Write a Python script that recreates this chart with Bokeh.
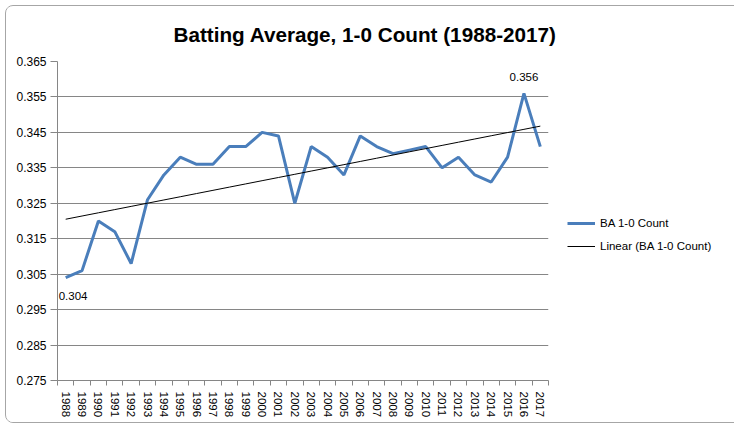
import numpy as np
from bokeh.plotting import figure
from bokeh.models import (Range1d, FixedTicker, Title, Legend, LegendItem, Label)
from bokeh.embed import file_html
from bokeh.resources import INLINE

# ---- data ----
years = [str(y) for y in range(1988, 2018)]
ba_1_0 = [0.304, 0.306, 0.320, 0.317, 0.308, 0.326, 0.333, 0.338, 0.336, 0.336,
          0.341, 0.341, 0.345, 0.344, 0.325, 0.341, 0.338, 0.333, 0.344, 0.341,
          0.339, 0.340, 0.341, 0.335, 0.338, 0.333, 0.331, 0.338, 0.356, 0.341]
y_ticks = [0.275, 0.285, 0.295, 0.305, 0.315, 0.325, 0.335, 0.345, 0.355, 0.365]
labeled_years = ["1988", "2016"]
title_text = "Batting Average, 1-0 Count (1988-2017)"
series_name = "BA 1-0 Count"
trend_name = "Linear (BA 1-0 Count)"

FONT = "Liberation Sans"
BLUE = "#4A7EBB"
GRID = "#868686"

n = len(years)
xs = np.arange(n) + 0.5
slope, intercept = np.polyfit(np.arange(n), np.array(ba_1_0), 1)
trend = slope * np.arange(n) + intercept

p = figure(frame_width=491, frame_height=319, output_backend="svg", toolbar_location=None,
           x_range=Range1d(0, n), y_range=Range1d(y_ticks[0], y_ticks[-1]),
           min_border_left=51, min_border_right=177, min_border_top=55, min_border_bottom=42,
           styles={"border": "1px solid #a6a6a6", "border-radius": "8px",
                   "overflow": "hidden", "margin-left": "5px", "margin-top": "5px"})
p.outline_line_color = None
p.background_fill_color = "white"
p.border_fill_color = "white"

t = Title(text=title_text, align="left", offset=116, standoff=29, vertical_align="middle",
          text_font=FONT, text_font_size="20.7px", text_font_style="bold", text_color="black")
p.add_layout(t, "above")

# x axis
p.xaxis.ticker = FixedTicker(ticks=list(xs), minor_ticks=list(range(n + 1)))
p.xaxis.major_label_overrides = {float(x): yv for x, yv in zip(xs, years)}
p.xaxis.major_label_orientation = "vertical"
p.xaxis.major_tick_line_color = None
p.xaxis.major_tick_out = 0
p.xaxis.major_tick_in = 0
p.xaxis.minor_tick_line_color = GRID
p.xaxis.minor_tick_out = 5
p.xaxis.minor_tick_in = 0
p.xaxis.axis_line_color = GRID
p.xaxis.major_label_standoff = 6
p.xaxis.major_label_text_font = FONT
p.xaxis.major_label_text_font_size = "11.5px"
p.xaxis.major_label_text_color = "black"
p.xgrid.grid_line_color = None

# y axis
p.yaxis.ticker = FixedTicker(ticks=y_ticks)
p.yaxis.major_label_overrides = {v: f"{v:.3f}" for v in y_ticks}
p.yaxis.axis_line_color = GRID
p.yaxis.major_tick_line_color = GRID
p.yaxis.major_tick_out = 7
p.yaxis.major_tick_in = 0
p.yaxis.minor_tick_line_color = None
p.yaxis.major_label_standoff = 4
p.yaxis.major_label_text_font = FONT
p.yaxis.major_label_text_font_size = "12px"
p.yaxis.major_label_text_color = "black"
p.ygrid.grid_line_color = GRID
p.ygrid.grid_line_width = 1

r_ba = p.line(xs, ba_1_0, line_color=BLUE, line_width=3)
r_tr = p.line(xs, trend, line_color="black", line_width=1)

# data labels
for yr in labeled_years:
    i = years.index(yr)
    if i == 0:
        lab = Label(x=xs[i], y=ba_1_0[i], text=f"{ba_1_0[i]:.3f}", y_offset=-18, x_offset=-7,
                    text_align="left", text_baseline="middle")
    else:
        lab = Label(x=xs[i], y=ba_1_0[i], text=f"{ba_1_0[i]:.3f}", y_offset=16,
                    text_align="center", text_baseline="middle")
    lab.text_font = FONT
    lab.text_font_size = "11.5px"
    lab.text_color = "black"
    p.add_layout(lab)

legend = Legend(items=[LegendItem(label=series_name, renderers=[r_ba]),
                       LegendItem(label=trend_name, renderers=[r_tr])],
                location=(19, 126), orientation="vertical",
                border_line_color=None, background_fill_alpha=0,
                padding=0, margin=0, spacing=7, glyph_width=28, glyph_height=16,
                label_height=16, label_standoff=5,
                label_text_font=FONT, label_text_font_size="11.5px", label_text_color="black")
p.add_layout(legend, "right")

open("out.html", "w").write(file_html(p, INLINE))
